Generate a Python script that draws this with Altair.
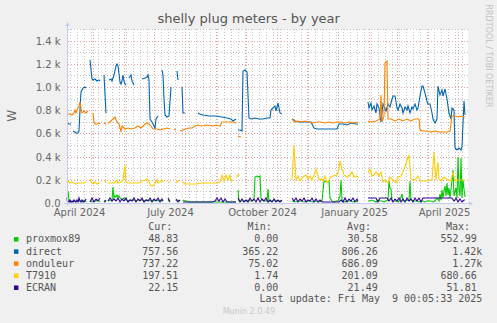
import altair as alt
import pandas as pd

# ---------------- data (day offset since graph start, watts); None = no data ----------------
START = pd.Timestamp("2024-04-05T09:36:00Z")
NDAYS = 401

PROXMOX89 = [(0,20),(1,100),(2,30),(4,10),(6,20),(8,10),(10,20),(12,15),(14,20),(16,10),(18,25),(19,10),(21,None),
    (23,20),(25,10),(27,20),(29,15),(31,30),(33,10),(35,None),(37,20),(39,10),(40,None),
    (41,20),(43,30),(45,20),(46,140),(47,40),(48,60),(49,50),(50,70),(51,50),(52,60),(53,40),(55,30),(57,40),(59,30),
    (61,20),(63,30),(65,25),(67,30),(69,20),(71,30),(73,25),(75,30),(77,20),(79,30),(81,25),(83,20),(85,30),(87,20),
    (89,25),(91,20),(93,30),(95,20),(96,25),(98,None),(101,20),(103,25),(106,None),(109,20),(111,25),(113,20),(114,None),
    (116,30),(118,20),(120,15),(122,10),(126,10),(130,8),(135,10),(140,10),(145,10),(150,12),(155,10),(160,10),(165,12),
    (169,10),(170,None),(171,115),(172,20),(174,15),(175,20),(177,15),(179,20),(181,25),(183,15),(185,20),(187,30),
    (188,220),(190,230),(192,225),(193,230),(194,40),(196,20),(198,15),(200,20),(201,120),(202,20),(204,15),(206,20),
    (208,30),(210,15),(212,20),(214,15),(215,20),(220,None),
    (225,15),(228,10),(231,20),(234,15),(237,10),(240,20),(243,15),(246,10),(249,15),(252,10),(255,20),(257,190),
    (260,185),(262,190),(263,40),(265,20),(267,10),(269,15),(271,20),(273,60),(274,200),(275,30),(277,10),(280,20),
    (283,15),(286,10),(289,15),(291,10),(296,None),
    (301,20),(303,15),(305,30),(307,20),(309,10),(311,25),(313,15),(315,20),(317,10),(319,20),(321,30),(322,186),
    (323,130),(324,120),(325,20),(327,15),(329,20),(331,10),(333,25),(335,80),(336,20),(338,20),(340,30),(342,15),
    (343,186),(344,30),(346,20),(348,15),(350,20),(352,10),(354,15),(356,20),(358,10),(360,20),(362,15),(364,20),
    (366,10),(368,20),(370,40),(372,20),(373,80),(374,30),(375,110),(376,40),(377,100),(378,150),(379,60),(380,170),
    (381,70),(382,130),(383,40),(385,200),(386,287),(387,60),(389,130),(390,40),(391,400),(392,120),(393,60),
    (394,390),(395,40),(396,200),(397,120),(398,50)]

DIRECT = [(0,690),(2,680),(4,680),(5,None),
    (6,620),(8,610),(9,600),(11,605),(12,620),(13,800),(14,960),(16,990),(18,1000),(19,990),(21,None),
    (23,1230),(25,1070),(26,1060),(28,1070),(30,1050),(32,1060),(33,1050),(35,None),
    (37,1100),(39,780),(40,None),
    (42,1060),(44,1070),(45,1050),(47,1100),(49,1180),(50,1200),(51,1180),(53,1040),(54,1030),(55,1050),(56,1100),
    (57,1050),(58,1030),(59,1020),(60,None),
    (62,1080),(64,1100),(65,1050),(67,1020),(70,None),
    (75,1070),(78,1080),(80,1090),(81,1100),(82,1060),(83,720),(85,700),(86,680),(88,650),(89,720),(91,750),(93,None),
    (95,1150),(96,1100),(97,900),(98,760),(100,740),(102,750),(104,1000),(106,None),
    (110,1140),(111,1060),(113,None),
    (115,1000),(116,780),(118,780),(125,None),
    (131,780),(133,770),(136,760),(142,750),(149,750),(155,740),(160,730),(164,720),(166,710),(169,720),(170,None),
    (171,630),(173,630),(175,620),(176,1140),(178,1150),(179,1140),(180,1130),(182,730),(184,720),(188,730),(192,725),
    (196,720),(200,730),(203,730),(204,800),(206,820),(208,840),(209,790),(211,860),(213,780),(215,770),(220,None),
    (225,720),(228,710),(232,700),(236,700),(240,700),(244,700),(247,650),(250,640),(255,640),(260,640),(265,640),
    (270,640),(272,680),(276,680),(280,670),(284,690),(289,680),(291,680),(296,None),
    (301,870),(302,820),(304,860),(305,800),(307,840),(309,780),(310,850),(312,820),(314,700),(316,850),(319,790),
    (321,850),(323,830),(325,900),(326,920),(328,920),(330,820),(331,800),(333,850),(335,820),(336,780),(338,830),
    (340,800),(341,840),(343,780),(345,830),(346,810),(348,850),(350,800),(351,820),(353,920),(355,1010),(356,1010),
    (358,950),(360,880),(361,850),(363,850),(365,780),(366,720),(368,690),(370,720),(371,1010),(373,930),(375,970),
    (376,920),(378,980),(380,900),(382,780),(384,720),(385,820),(387,800),(388,470),(390,460),(392,470),(394,460),
    (395,480),(397,880),(398,760)]

ONDULEUR = [(0,780),(1,770),(3,770),(5,760),(7,780),(8,800),(9,780),(10,800),(12,840),(13,870),(14,820),(15,780),
    (17,790),(19,780),(21,790),(23,None),
    (26,780),(27,700),(28,680),(30,680),(32,690),(33,680),(35,None),(37,690),(39,680),(40,None),
    (41,690),(43,700),(46,720),(48,740),(50,700),(52,680),(54,610),(55,660),(58,640),(61,650),(64,640),(68,650),
    (71,660),(74,650),(76,660),(78,680),(80,690),(82,680),(84,660),(86,640),(90,640),(93,630),(96,640),(100,645),
    (103,640),(105,None),(107,640),(109,630),(111,None),
    (113,620),(116,630),(119,640),(122,650),(125,650),(128,660),(131,670),(134,660),(139,670),(146,660),(149,670),
    (153,660),(155,700),(160,700),(166,700),(169,690),(170,None),(171,580),(174,570),(200,None),
    (225,720),(228,700),(231,710),(234,700),(238,705),(242,700),(246,690),(250,700),(254,695),(258,690),(262,700),
    (266,690),(270,700),(274,695),(278,690),(282,700),(286,690),(291,700),(296,None),
    (301,710),(305,700),(309,710),(313,720),(314,930),(315,700),(317,750),(318,1210),(320,1220),(321,720),(324,720),
    (328,710),(332,720),(336,710),(340,720),(344,710),(348,720),(352,720),(353,630),(356,620),(360,620),(364,615),
    (368,620),(372,610),(376,615),(380,610),(383,620),(385,750),(388,750),(392,745),(395,750),(398,740)]

T7910 = [(0,180),(1,190),(3,170),(5,180),(7,170),(9,160),(11,170),(13,170),(15,170),(17,170),(19,180),(21,None),
    (23,210),(25,170),(26,160),(28,180),(30,160),(32,170),(33,170),(35,None),(37,200),(39,180),(40,None),
    (41,170),(44,170),(47,170),(48,180),(50,200),(51,170),(54,180),(56,200),(58,330),(59,180),(61,170),(64,170),
    (67,170),(70,170),(73,170),(75,190),(78,200),(80,210),(82,180),(84,150),(86,150),(88,170),(90,200),(91,170),
    (93,180),(95,200),(96,180),(98,None),(101,180),(103,180),(106,None),(109,170),(111,190),(113,200),(114,None),
    (116,180),(118,160),(122,160),(126,160),(130,160),(134,170),(140,170),(146,170),(150,170),(153,180),(155,240),
    (157,190),(159,240),(161,200),(163,240),(164,190),(166,200),(167,None),(169,220),(171,240),(173,240),(200,None),
    (225,200),(227,500),(229,200),(231,230),(233,190),(236,220),(239,240),(241,210),(243,230),(245,200),(247,240),
    (249,290),(251,230),(252,200),(254,210),(256,190),(258,230),(260,170),(262,200),(264,220),(266,230),(270,240),
    (272,290),(273,360),(275,290),(277,240),(280,220),(283,240),(285,270),(287,220),(290,230),(291,220),(296,None),
    (301,260),(303,290),(305,230),(307,240),(309,270),(312,230),(314,270),(316,180),(318,200),(321,170),(323,220),
    (326,200),(329,170),(331,220),(334,230),(336,270),(342,410),(344,210),(346,200),(348,200),(351,230),(353,190),
    (356,190),(360,190),(363,200),(365,200),(367,440),(369,200),(371,350),(372,210),(374,190),(377,220),(381,200),
    (384,190),(386,270),(388,190),(391,200),(394,200),(398,200)]

ECRAN = [(0,40),(1,20),(2,10),(3,30),(4,10),(5,20),(6,10),(7,30),(8,15),(9,10),(10,25),(11,10),(12,40),(13,20),
    (14,10),(15,30),(16,15),(17,10),(18,20),(19,35),(21,None),
    (23,10),(25,40),(27,10),(29,35),(31,15),(33,40),(35,None),(37,10),(39,30),(40,None),
    (41,20),(43,40),(45,15),(47,35),(49,20),(51,40),(53,10),(55,35),(57,15),(59,40),(61,10),(63,30),(65,15),(67,40),
    (69,10),(71,35),(73,15),(75,40),(77,10),(79,30),(81,20),(83,40),(85,10),(87,35),(89,15),(91,40),(93,10),(95,35),
    (96,20),(98,None),(101,40),(103,10),(106,None),(109,35),(111,10),(113,30),(114,None),
    (116,10),(120,5),(125,5),(130,5),(135,5),(140,5),(145,5),(148,15),(150,40),(152,20),(154,40),(156,10),(158,35),
    (160,10),(162,5),(165,5),(169,5),(170,None),
    (171,40),(173,10),(175,35),(177,5),(179,30),(181,10),(183,40),(185,15),(187,35),(189,10),(191,40),(193,10),
    (195,35),(197,15),(199,40),(201,10),(203,30),(205,10),(207,35),(209,10),(211,30),(213,10),(215,25),(220,None),
    (225,40),(227,15),(229,40),(231,10),(233,35),(235,15),(237,40),(239,10),(241,30),(243,15),(245,40),(247,10),
    (249,35),(251,10),(253,30),(255,10),(257,8),(262,8),(267,8),(272,8),(274,30),(276,10),(278,40),(280,10),(282,35),
    (284,15),(286,40),(288,10),(290,35),(291,20),(296,None),
    (301,40),(305,40),(309,40),(311,10),(313,40),(318,40),(320,40),(322,15),(324,40),(326,10),(328,35),(330,15),
    (332,40),(334,10),(336,35),(338,10),(340,40),(342,15),(344,35),(346,10),(348,40),(350,15),(352,40),(354,10),
    (356,40),(360,40),(365,40),(370,40),(375,40),(380,40),(385,40),(387,20),(389,40),(391,10),(393,35),(395,5),
    (397,30),(398,22)]

NAMES = ["proxmox89", "direct", "onduleur", "T7910", "ECRAN"]
COLORS = ["#00CC00", "#0066B3", "#FF8000", "#FFCC00", "#330099"]
SERIES = [PROXMOX89, DIRECT, ONDULEUR, T7910, ECRAN]
CUR = ["48.83", "757.56", "737.22", "197.51", "22.15"]
MIN = ["0.00", "365.22", "75.02", "1.74", "0.00"]
AVG = ["30.58", "806.26", "686.09", "201.09", "21.49"]
MAX = ["552.99", "1.42k", "1.27k", "680.66", "51.81"]
Y_TICKS = [0, 200, 400, 600, 800, 1000, 1200, 1400]
LABEL_MONTHS = ["2024-04-01", "2024-07-01", "2024-10-01", "2025-01-01", "2025-04-01"]
TITLE = "shelly plug meters - by year"
LAST_UPDATE = "Last update: Fri May\u00a0\u00a09 00:05:33 2025"

# ---------------- helpers ----------------
DAY_MS = 86400000
START_MS = int(START.value // 1_000_000)
END_MS = START_MS + NDAYS * DAY_MS
W, H = 401, 174
OX, OY = 67, 29  # plot origin on the canvas

def ms(ts):
    return int(pd.Timestamp(ts, tz="UTC").value // 1_000_000)

def series_df(pairs):
    rows, seg = [], 0
    for d, v in pairs:
        if v is None:
            seg += 1
            continue
        rows.append({"t": START_MS + d * DAY_MS, "v": v, "seg": seg})
    return pd.DataFrame(rows)

label_vals = [ms(m) + 16 * DAY_MS for m in LABEL_MONTHS]
xscale = alt.Scale(type="utc", domain=[START_MS, END_MS], round=True)
yscale = alt.Scale(domain=[0, 1500], nice=False, zero=True, round=True)
xaxis = alt.Axis(values=label_vals, labelExpr="utcFormat(datum.value, '%B %Y')", grid=False, ticks=False,
                 domain=False, title=None, labelFont="DejaVu Sans", labelFontSize=10, labelColor="#666666",
                 labelPadding=4, labelFlush=False, labelOverlap=False)
yaxis = alt.Axis(values=Y_TICKS, labelExpr="datum.value == 0 ? '0.0\u2002' : format(datum.value/1000, '.1f') + ' k'",
                 grid=False, ticks=False, domain=False, title=None, labelFont="DejaVu Sans", labelFontSize=10,
                 labelColor="#666666", labelPadding=7, labelAlign="right")

# grid
months = pd.date_range("2024-05-01", "2025-05-01", freq="MS", tz="UTC")
weeks = pd.date_range("2024-04-08", "2025-05-10", freq="W-MON", tz="UTC")
vgrid_minor = pd.DataFrame({"t": [int(w.value // 1_000_000) for w in weeks]})
vgrid_major = pd.DataFrame({"t": [int(m.value // 1_000_000) for m in months]})
hgrid_minor = pd.DataFrame({"v": [100, 300, 500, 700, 900, 1100, 1300, 1500]})
hgrid_major = pd.DataFrame({"v": [200, 400, 600, 800, 1000, 1200, 1400]})

GRID_GRAY = "#C4C4C4"
GRID_RED = "#E8A0A0"
layers = []
layers.append(alt.Chart(vgrid_minor).mark_rule(color=GRID_GRAY, strokeDash=[1, 2], strokeWidth=1, xOffset=0.5)
              .encode(x=alt.X("t:T", scale=xscale, axis=xaxis)))
layers.append(alt.Chart(hgrid_minor).mark_rule(color=GRID_GRAY, strokeDash=[1, 2], strokeWidth=1, yOffset=0.5)
              .encode(y=alt.Y("v:Q", scale=yscale, axis=yaxis)))
layers.append(alt.Chart(vgrid_major).mark_rule(color=GRID_RED, strokeDash=[1, 2], strokeWidth=1, xOffset=0.5)
              .encode(x=alt.X("t:T", scale=xscale, axis=xaxis)))
layers.append(alt.Chart(hgrid_major).mark_rule(color=GRID_RED, strokeDash=[1, 2], strokeWidth=1, yOffset=0.5)
              .encode(y=alt.Y("v:Q", scale=yscale, axis=yaxis)))

for pairs, col in zip(SERIES, COLORS):
    df = series_df(pairs)
    layers.append(alt.Chart(df).mark_line(color=col, strokeWidth=1.1, interpolate="linear")
                  .encode(x=alt.X("t:T", scale=xscale, axis=xaxis),
                          y=alt.Y("v:Q", scale=yscale, axis=yaxis),
                          detail="seg:N"))

DUMMY = pd.DataFrame({"a": [0]})
AXIS_COL = "#C4CCF4"
# axis lines with arrows
layers.append(alt.Chart(DUMMY).mark_rule(color=AXIS_COL, strokeWidth=1)
              .encode(x=alt.value(-3), x2=alt.value(W + 1), y=alt.value(H + 0.5)))
layers.append(alt.Chart(DUMMY).mark_rule(color=AXIS_COL, strokeWidth=1)
              .encode(x=alt.value(0.5), y=alt.value(H + 3), y2=alt.value(-4)))
layers.append(alt.Chart(DUMMY).mark_point(shape="triangle-right", filled=True, color=AXIS_COL, size=22, opacity=1)
              .encode(x=alt.value(W + 3), y=alt.value(H + 0.5)))
layers.append(alt.Chart(DUMMY).mark_point(shape="triangle-up", filled=True, color=AXIS_COL, size=22, opacity=1)
              .encode(x=alt.value(0.5), y=alt.value(-5)))

def text(s, x, y, size=10, align="left", color="#555555", font="DejaVu Sans Mono", angle=0):
    kw = dict(fontSize=size, align=align, baseline="middle", color=color, font=font)
    if angle:
        kw["angle"] = angle
    return alt.Chart(DUMMY).mark_text(**kw).encode(x=alt.value(x - OX), y=alt.value(y - OY), text=alt.value(s))

layers.append(text(TITLE, 248.7, 19.3, size=13, align="center", color="#555555", font="DejaVu Sans"))
layers.append(text("W", 11.5, 115.8, size=12, align="center", color="#666666", font="DejaVu Sans", angle=270))
layers.append(text("RRDTOOL / TOBI OETIKER", 488.3, 56, size=8, align="center", color="#C0C0C0",
                   font="DejaVu Sans", angle=90))
layers.append(text("Munin 2.0.49", 248.8, 312.3, size=8, align="center", color="#C8C8C8", font="DejaVu Sans"))

# legend
HEAD_Y = 227.3
for h, xe in zip(["Cur:", "Min:", "Avg:", "Max:"], [172.3, 271.7, 371.0, 470.0]):
    layers.append(text(h, xe, HEAD_Y, align="right"))
ROW_Y = [239.3, 251.6, 263.6, 275.7, 287.7]
for i, name in enumerate(NAMES):
    y = ROW_Y[i]
    layers.append(alt.Chart(DUMMY).mark_square(size=20, color=COLORS[i], opacity=1, filled=True)
                  .encode(x=alt.value(16.2 - OX), y=alt.value(y - OY)))
    layers.append(text(name, 26, y))
    layers.append(text(CUR[i], 178.3, y, align="right"))
    layers.append(text(MIN[i], 278.3, y, align="right"))
    layers.append(text(AVG[i], 377.7, y, align="right"))
    layers.append(text(MAX[i], 482.3 if MAX[i].endswith("k") else 476.7, y, align="right"))
layers.append(text(LAST_UPDATE, 482.3, 299.3, align="right"))

chart = alt.layer(*layers).properties(
    width=W, height=H,
    autosize=alt.AutoSizeParams(type="none"),
    padding={"left": OX, "top": OY, "right": 497 - OX - W, "bottom": 323 - OY - H},
    background="#F0F0F0",
).configure_view(fill="#FFFFFF", strokeWidth=0)

chart.save("out.html", embed_options={"renderer": "svg", "actions": False})
